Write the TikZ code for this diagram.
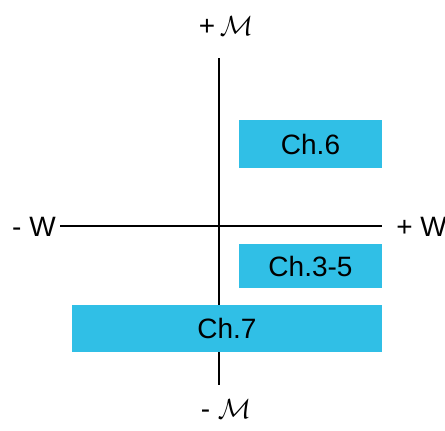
\documentclass[tikz,border=0pt]{standalone}
\usepackage{fontspec}
\setmainfont{Liberation Sans}
\usepackage{tikz}
\usetikzlibrary{positioning}
\definecolor{chapBlue}{HTML}{30BFE6}

\begin{document}
\begin{tikzpicture}[x=0.75pt,y=-0.75pt,font=\fontsize{21}{25}\selectfont,
  chap/.style={fill=chapBlue,inner sep=0pt,text=black},
  axis/.style={line width=1.3pt,black}]
\useasboundingbox (0,0) rectangle (445,430);
% axis ends
\coordinate (left) at (60,226);
\coordinate (right) at (382,226);
\coordinate (top) at (219,58);
\coordinate (bottom) at (219,385);
\node[anchor=east,inner sep=0pt] (mW) at (56,227) {- W};
\node[anchor=west,inner sep=0pt] (pW) at (396,227) {+ W};
\node[anchor=south,inner sep=0pt] (pM) at (226,36) {+\,$\mathcal{M}$};
\node[anchor=north,inner sep=0pt] (mM) at (226,399) {- $\mathcal{M}$};
\draw[axis] (left) -- (right);
\draw[axis] (top) -- (bottom);
% chapters
\node[chap,minimum width=107.25pt,minimum height=36pt] (ch6) at (310.5,144) {Ch.6};
\node[chap,minimum width=107.25pt,minimum height=33pt] (ch35) at (310.5,266) {Ch.3-5};
\node[chap,minimum width=232.5pt,minimum height=35.25pt] (ch7) at (227,328.5) {Ch.7};
\end{tikzpicture}
\end{document}
